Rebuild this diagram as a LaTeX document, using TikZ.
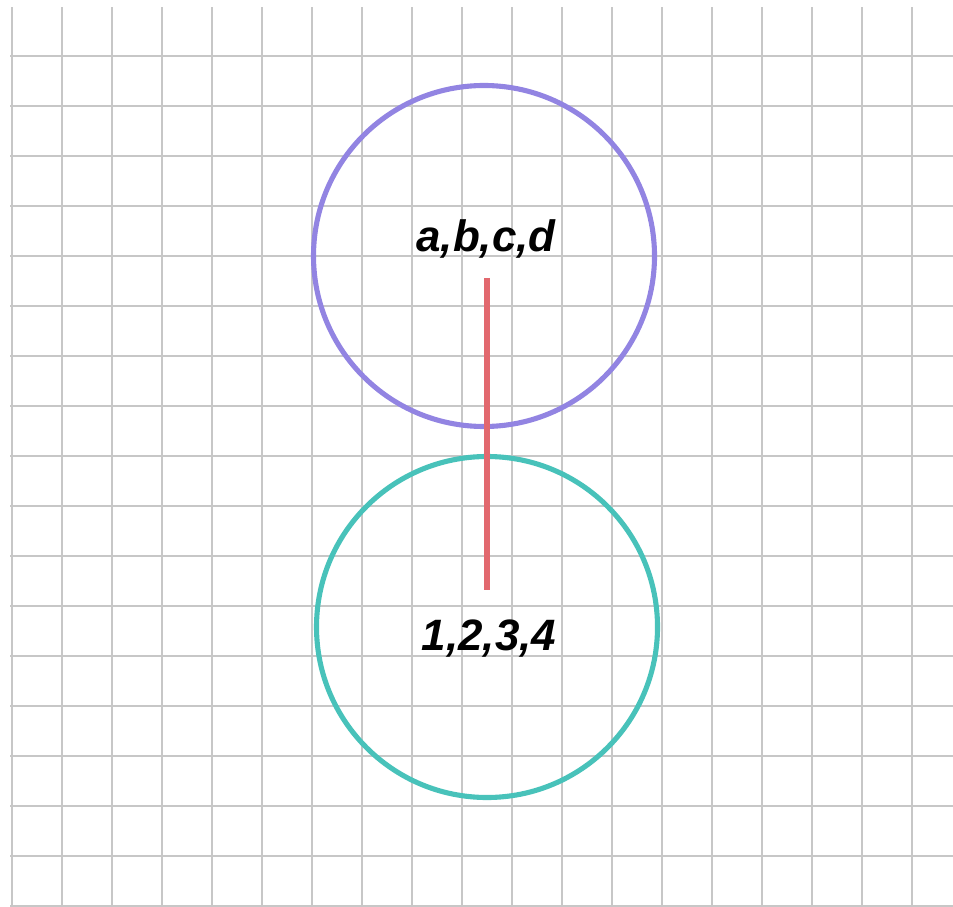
\documentclass[tikz,border=0pt]{standalone}
\usepackage{fontspec}
\setmainfont{Liberation Sans}
\usetikzlibrary{positioning}

\begin{document}
\begin{tikzpicture}[
  paper grid/.style={
    draw=black!22,
    line width=1.1pt
  },
  set ring/.style={
    circle,
    draw,
    line width=2.9pt,
    minimum size=6.82cm,
    inner sep=0pt
  },
  set label/.style={
    font=\fontsize{25}{29}\selectfont\bfseries\itshape,
    inner sep=0pt
  },
  link/.style={line width=3.2pt}
]
  \useasboundingbox (0,0) rectangle (19.06,18.12);

  % squared paper
  \foreach \gx in {0,...,18}
    \draw[paper grid] (0.24+\gx,0) -- (0.24+\gx,17.98);
  \foreach \gy in {0,...,17}
    \draw[paper grid] (0.2,\gy) -- (19.06,\gy);

  \node[set ring,draw={rgb,255:red,146;green,132;blue,226}] (letters) at (9.68,13.0) {};
  \node[set ring,draw={rgb,255:red,72;green,194;blue,186}] (digits) at (9.74,5.58) {};

  \node[set label,anchor=base] (letter-text) at (9.72,13.08) {a,b,c,d};
  \node[set label,anchor=base] (digit-text) at (9.78,5.12) {1,2,3,4};

  \coordinate (link-top) at (9.74,12.56);
  \coordinate (link-bottom) at (9.74,6.32);
  \draw[link,draw={rgb,255:red,226;green,104;blue,110}] (link-top) -- (link-bottom);
\end{tikzpicture}
\end{document}
